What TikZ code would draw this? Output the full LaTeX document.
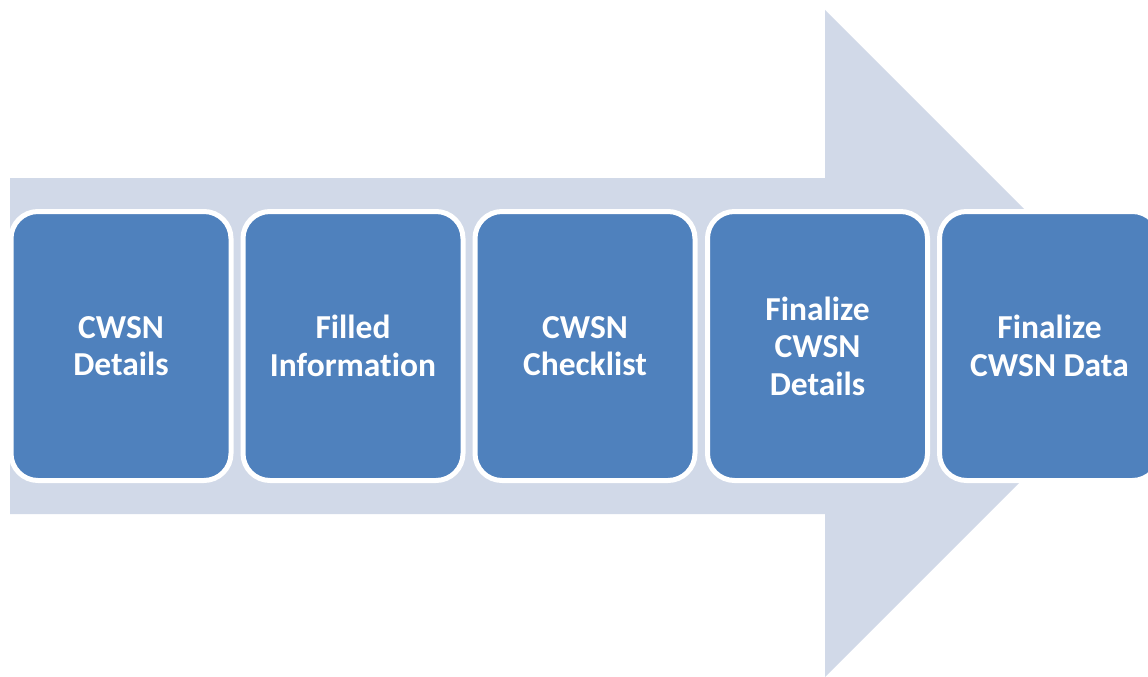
\documentclass[tikz,border=0pt]{standalone}
\usepackage{fontspec}
\setmainfont{Carlito}[Ligatures=NoCommon]
\definecolor{arrowfill}{HTML}{D1D9E8}
\definecolor{boxfill}{HTML}{4F81BD}
\begin{document}
\begin{tikzpicture}[x=1pt,y=-1pt,
  stepbox/.style={draw=white, line width=5pt, fill=boxfill, rounded corners=27pt,
    minimum width=220pt, minimum height=269pt, inner sep=0pt, align=center,
    text=white, font=\fontsize{33.5}{37.5}\selectfont\bfseries}]
\useasboundingbox (0,0) rectangle (1148,677);
\clip (0,0) rectangle (1148,677);
\fill[arrowfill] (10,178) -- (825,178) -- (825,10) -- (1158.5,343.5) -- (825,677) -- (825,514) -- (10,514) -- cycle;
\node[stepbox] (b1) at (121,346) {CWSN\\Details};
\node[stepbox] (b2) at (353,346) {Filled\\Information};
\node[stepbox] (b3) at (585,346) {CWSN\\Checklist};
\node[stepbox] (b4) at (817.5,346) {Finalize\\CWSN\\Details};
\node[stepbox] (b5) at (1049.5,346) {Finalize\\CWSN Data};
\end{tikzpicture}
\end{document}
